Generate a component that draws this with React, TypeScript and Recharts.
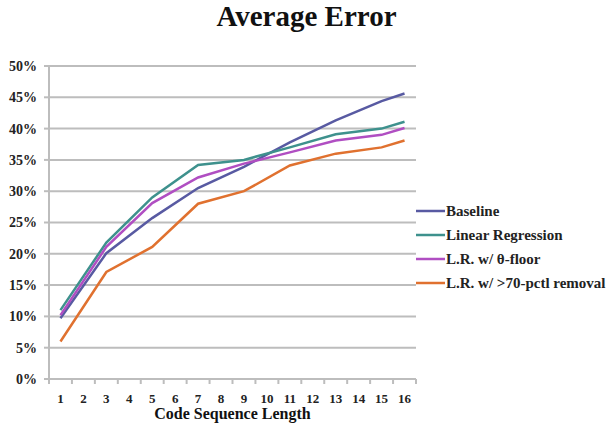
import React from "react";
import { LineChart, Line, XAxis, YAxis, CartesianGrid } from "recharts";

const categories = [1, 3, 5, 7, 9, 11, 13, 15, 16];
const baseline = [9.7, 20.1, 25.7, 30.5, 33.9, 37.8, 41.3, 44.4, 45.6];
const linearRegression = [11.0, 21.8, 29.0, 34.2, 35.0, 37.0, 39.1, 40.0, 41.1];
const thetaFloor = [10.2, 21.1, 28.1, 32.2, 34.4, 36.2, 38.1, 39.0, 40.1];
const pctlRemoval = [6.0, 17.1, 21.1, 28.0, 30.0, 34.1, 36.0, 37.0, 38.1];

const xLabels = [1, 2, 3, 4, 5, 6, 7, 8, 9, 10, 11, 12, 13, 14, 15, 16];
const yTicks = [0, 5, 10, 15, 20, 25, 30, 35, 40, 45, 50];

const series = [
  { key: "baseline", name: "Baseline", color: "#585AA2" },
  { key: "lr", name: "Linear Regression", color: "#3E918D" },
  { key: "floor", name: "L.R. w/ θ-floor", color: "#B04EC2" },
  { key: "removal", name: "L.R. w/ >70-pctl removal", color: "#E0712F" },
];

const data = categories.map((c, i) => ({
  x: c,
  baseline: baseline[i],
  lr: linearRegression[i],
  floor: thetaFloor[i],
  removal: pctlRemoval[i],
}));

// tick marks sit on the boundaries between categories, labels at the centers
const xTicks: number[] = [];
xLabels.forEach((v) => {
  xTicks.push(v - 0.5);
  xTicks.push(v);
});
xTicks.push(xLabels[xLabels.length - 1] + 0.5);

const FONT = "'Liberation Serif', 'DejaVu Serif', serif";
const TEXT = "#222";
const GRID = "#BDBDBD";

const XTick = (props: any) => {
  const { x, y, payload } = props;
  const v = payload.value;
  if (Number.isInteger(v)) {
    return (
      <text x={x} y={y + 24} textAnchor="middle" fontFamily={FONT} fontSize={13} fontWeight="bold" fill={TEXT}>
        {v}
      </text>
    );
  }
  return <line x1={x} x2={x} y1={y} y2={y + 5} stroke={GRID} strokeWidth={2} />;
};

export default function App() {
  return (
    <div style={{ position: "relative", width: 613, height: 423, background: "#fff" }}>
      <style>{"body{margin:0;}"}</style>
      <div
        style={{
          position: "absolute",
          left: 0,
          top: 2,
          width: 613,
          textAlign: "center",
          fontFamily: FONT,
          fontWeight: "bold",
          fontSize: 29,
          lineHeight: "29px",
          color: "#111",
        }}
      >
        Average Error
      </div>
      <LineChart
        width={613}
        height={423}
        data={data}
        margin={{ top: 66, right: 197, bottom: 14, left: 0 }}
      >
        <CartesianGrid vertical={false} stroke={GRID} strokeWidth={2} />
        <XAxis
          dataKey="x"
          type="number"
          domain={[0.5, 16.5]}
          ticks={xTicks}
          interval={0}
          tickLine={false}
          tickSize={0}
          tickMargin={0}
          tick={<XTick />}
          height={30}
          axisLine={{ stroke: GRID, strokeWidth: 2 }}
        />
        <YAxis
          type="number"
          domain={[0, 50]}
          ticks={yTicks}
          interval={0}
          width={49}
          tickSize={5}
          tickMargin={7}
          tickFormatter={(v: number) => `${v}%`}
          tickLine={{ stroke: GRID, strokeWidth: 2 }}
          axisLine={{ stroke: GRID, strokeWidth: 2 }}
          tick={{ fontFamily: FONT, fontSize: 14, fontWeight: "bold", fill: TEXT }}
        />
        {series.map((s) => (
          <Line
            key={s.key}
            dataKey={s.key}
            name={s.name}
            stroke={s.color}
            strokeWidth={2.5}
            dot={false}
            isAnimationActive={false}
            type="linear"
          />
        ))}
      </LineChart>
      <div style={{ position: "absolute", left: 416, top: 199, fontFamily: FONT }}>
        {series.map((s) => (
          <div key={s.key} style={{ display: "flex", alignItems: "center", height: 24 }}>
            <svg width={29} height={4} style={{ display: "block" }}>
              <line x1={0} x2={29} y1={2} y2={2} stroke={s.color} strokeWidth={2.5} />
            </svg>
            <span style={{ fontSize: 15, fontWeight: "bold", color: TEXT, whiteSpace: "nowrap", marginLeft: 1 }}>
              {s.name}
            </span>
          </div>
        ))}
      </div>
      <div
        style={{
          position: "absolute",
          left: 49,
          width: 367,
          top: 405,
          textAlign: "center",
          fontFamily: FONT,
          fontWeight: "bold",
          fontSize: 16,
          lineHeight: "18px",
          color: "#111",
        }}
      >
        Code Sequence Length
      </div>
    </div>
  );
}
